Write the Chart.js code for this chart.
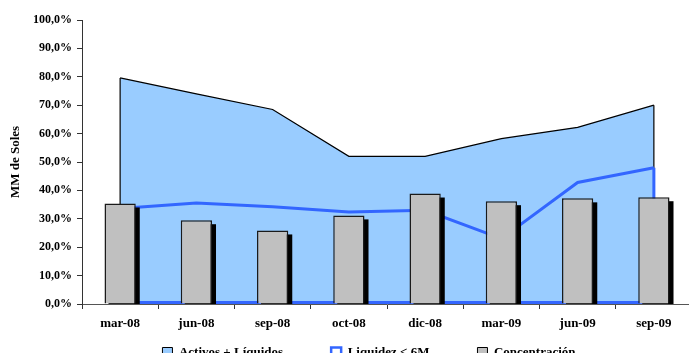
<!DOCTYPE html>
<html>
<head>
<meta charset="utf-8">
<script src="https://cdn.jsdelivr.net/npm/chart.js@4.4.0/dist/chart.umd.min.js"></script>
<style>
  html, body { margin: 0; padding: 0; overflow: hidden; background: #fff; }
  #wrap { position: relative; width: 700px; height: 364px; }
</style>
</head>
<body>
<div id="wrap"><canvas id="chart"></canvas></div>
<script>
const categories = ['mar-08', 'jun-08', 'sep-08', 'oct-08', 'dic-08', 'mar-09', 'jun-09', 'sep-09'];
const activosLiquidos = [79.6, 74, 68.5, 52, 52, 58.2, 62.2, 70];
const liquidez6M = [33.6, 35.6, 34.2, 32.4, 33, 23, 42.8, 48];
const concentracion = [35.4, 29.5, 25.9, 31.2, 38.9, 36.2, 37.2, 37.6];
const yTicks = [0, 10, 20, 30, 40, 50, 60, 70, 80, 90, 100];

const serif = "'Liberation Serif', 'Times New Roman', serif";

// closes the area outlines (vertical ends, baseline) like the original chart
const areaEdges = {
  id: 'areaEdges',
  afterDatasetDraw(chart, args) {
    const ds = chart.data.datasets[args.index];
    if (!ds.edgeColor) return;
    const x = chart.scales.x, y = chart.scales.y;
    const ctx = chart.ctx;
    const n = ds.data.length - 1;
    const y0 = y.getPixelForValue(0);
    ctx.save();
    ctx.strokeStyle = ds.edgeColor;
    ctx.lineWidth = ds.borderWidth;
    ctx.beginPath();
    ctx.moveTo(x.getPixelForValue(0), y.getPixelForValue(ds.data[0]));
    ctx.lineTo(x.getPixelForValue(0), y0 - ds.borderWidth / 2);
    if (ds.edgeBase) ctx.lineTo(x.getPixelForValue(n), y0 - ds.borderWidth / 2);
    else ctx.moveTo(x.getPixelForValue(n), y0);
    ctx.lineTo(x.getPixelForValue(n), y.getPixelForValue(ds.data[n]));
    ctx.stroke();
    ctx.restore();
  }
};

// hard black drop shadow behind each bar, taken from the bar elements
const barShadow = {
  id: 'barShadow',
  beforeDatasetDraw(chart, args) {
    if (chart.data.datasets[args.index].type !== 'bar') return;
    const ctx = chart.ctx;
    const area = chart.chartArea;
    ctx.save();
    ctx.beginPath();
    ctx.rect(area.left, area.top, area.right - area.left, area.bottom - area.top);
    ctx.clip();
    ctx.fillStyle = '#000';
    args.meta.data.forEach(bar => {
      const p = bar.getProps(['x', 'y', 'base', 'width'], true);
      ctx.fillRect(p.x - p.width / 2 + 4, p.y + 4, p.width, p.base - p.y);
    });
    ctx.restore();
  }
};

// legend: wide item spacing but a short box, sitting right of centre
const legendPlace = {
  id: 'legendPlace',
  beforeInit(chart) {
    const lg = chart.legend;
    const fit = lg.fit.bind(lg);
    lg.fit = function () { fit(); this.height = 26; };
  },
  afterLayout(chart) {
    const lg = chart.legend;
    lg.left += 23;
    lg.right += 23;
    lg.top = 298;
    lg.bottom = lg.top + 70;
  }
};

new Chart(document.getElementById('chart'), {
  data: {
    labels: categories,
    datasets: [
      {
        type: 'line',
        label: 'Activos + Líquidos',
        data: activosLiquidos,
        backgroundColor: '#99CCFF',
        borderColor: '#000',
        borderWidth: 1.2,
        edgeColor: '#000',
        fill: 'origin',
        pointRadius: 0,
        tension: 0,
        order: 3
      },
      {
        type: 'line',
        label: 'Liquidez < 6M',
        data: liquidez6M,
        backgroundColor: '#fff',
        borderColor: '#3366FF',
        borderWidth: 3,
        edgeColor: '#3366FF',
        edgeBase: true,
        fill: false,
        pointRadius: 0,
        tension: 0,
        order: 2
      },
      {
        type: 'bar',
        label: 'Concentración',
        data: concentracion,
        backgroundColor: '#C0C0C0',
        borderColor: '#1a1a1a',
        borderWidth: 1.5,
        barPercentage: 0.41,
        categoryPercentage: 1,
        order: 1
      }
    ]
  },
  options: {
    responsive: true,
    maintainAspectRatio: false,
    animation: false,
    layout: { padding: { top: 20, right: 8, left: 0, bottom: 0 } },
    plugins: {
      title: { display: false },
      tooltip: { enabled: false },
      legend: {
        position: 'bottom',
        labels: {
          color: '#000',
          font: { family: serif, size: 13, weight: 'bold' },
          boxWidth: 10,
          boxHeight: 10,
          padding: 48,
          generateLabels(chart) {
            return chart.data.datasets.map((ds, i) => ({
              text: ds.label,
              datasetIndex: i,
              fillStyle: ds.type === 'bar' ? '#C0C0C0' : ds.backgroundColor,
              strokeStyle: i === 1 ? '#3366FF' : '#000',
              lineWidth: i === 1 ? 2.5 : 1,
              fontColor: '#000'
            }));
          }
        }
      }
    },
    scales: {
      x: {
        offset: true,
        grid: { offset: true, drawOnChartArea: false, drawTicks: true, tickLength: 5, color: '#333' },
        border: { display: true, color: '#555', width: 1 },
        ticks: {
          color: '#000',
          font: { family: serif, size: 13, weight: 'bold' },
          padding: 7,
          maxRotation: 0
        },
        afterFit(scale) { scale.height = 34; }
      },
      y: {
        min: 0,
        max: 100,
        afterBuildTicks(scale) { scale.ticks = yTicks.map(v => ({ value: v })); },
        grid: { drawOnChartArea: false, drawTicks: true, tickLength: 5, color: '#333' },
        border: { display: true, color: '#333', width: 1 },
        ticks: {
          color: '#000',
          font: { family: serif, size: 12, weight: 'bold' },
          padding: 5,
          callback: v => v.toFixed(1).replace('.', ',') + '%'
        },
        title: {
          display: true,
          text: 'MM de Soles',
          color: '#000',
          font: { family: serif, size: 13, weight: 'bold' },
          padding: { top: 8, bottom: 0 }
        },
        afterFit(scale) { scale.width = 82; }
      }
    }
  },
  plugins: [areaEdges, barShadow, legendPlace]
});
</script>
</body>
</html>
